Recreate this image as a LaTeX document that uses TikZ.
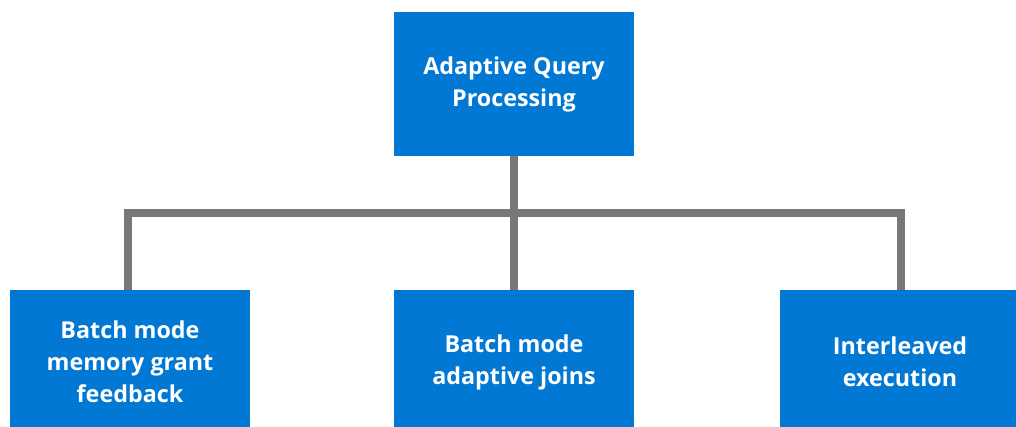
\documentclass[tikz,border=0pt]{standalone}
\usepackage{fontspec}
\setmainfont{Open Sans}
\definecolor{boxblue}{HTML}{0078D4}
\definecolor{linegray}{HTML}{787878}
\begin{document}
\begin{tikzpicture}[x=1pt,y=-1pt,
  box/.style={fill=boxblue, draw=none, minimum width=240pt, minimum height=144pt, inner sep=0pt,
    text=white, align=center, font=\fontsize{23.3}{32}\selectfont\bfseries},
  conn/.style={draw=linegray, line width=8pt}]
\useasboundingbox (0,0) rectangle (1016,427);
\clip (0,0) rectangle (1016,427);
\node[box] (top) at (514,84) {Adaptive Query\\Processing};
\node[box] (left) at (130,362) {Batch mode\\memory grant\\feedback};
\node[box] (mid) at (514,362) {Batch mode\\adaptive joins};
\node[box] (right) at (900,362) {Interleaved\\execution};
\coordinate (j) at (514,213);
\draw[conn] (top.south) -- (mid.north);
\draw[conn] (left.north -| 127.5,0) |- (j) -| (right.north -| 900.5,0);
\end{tikzpicture}
\end{document}
